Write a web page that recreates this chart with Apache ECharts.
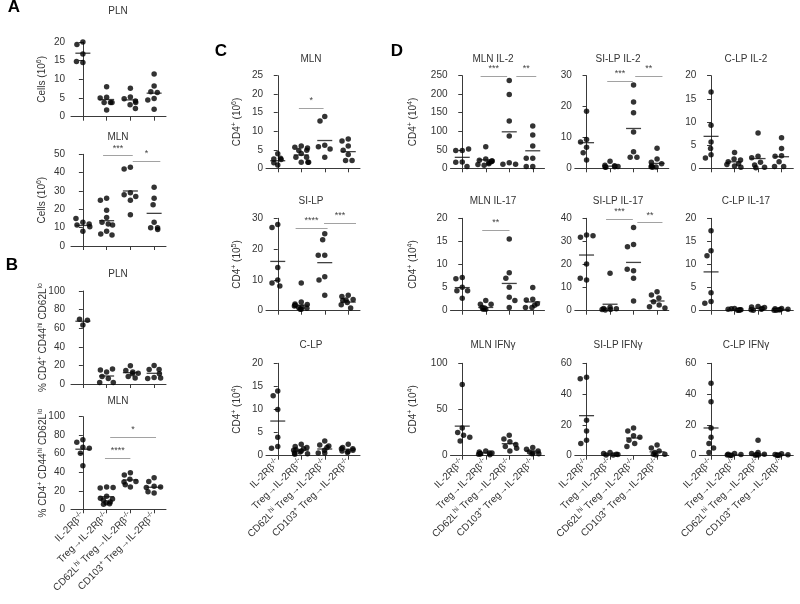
<!DOCTYPE html>
<html><head><meta charset="utf-8">
<script src="https://cdn.jsdelivr.net/npm/echarts@6/dist/echarts.min.js"></script>
<style>html,body{margin:0;padding:0;background:#fff}#c{width:800px;height:604px}</style>
</head><body><div id="c"></div>
<script>
// ---------- categories ----------
const categories = ['IL-2Rβ-/-', 'Treg→IL-2Rβ-/-', 'CD62Lhi Treg→IL-2Rβ-/-', 'CD103+ Treg→IL-2Rβ-/-'];
const categoryLabels = ['IL-2Rβ{s|-/-}', 'Treg→IL-2Rβ{s|-/-}', 'CD62L{s|hi} Treg→IL-2Rβ{s|-/-}', 'CD103{s|+} Treg→IL-2Rβ{s|-/-}'];

// ---------- A ----------
const aPlnValues = [[20, 19.3, 16.8, 14.5, 14.8], [8, 5.2, 5, 3.8, 3.8, 3.8, 1.8], [7.6, 5.3, 4.8, 4.2, 3.8, 3.2, 2.2], [11.4, 8.2, 6.7, 6.5, 4.9, 4.5, 2.0]];
const aPlnMeans = [17, 4.6, 4.5, 6.3];
const aMlnValues = [[13, 11.5, 12, 15, 10.5, 8], [26, 25, 19.5, 15.5, 13, 12, 11.5, 8, 6.5, 6], [43, 42, 29, 28, 27, 25, 17], [32, 26, 22.5, 13, 10, 10, 9]];
const aMlnMeans = [11.2, 13.8, 30, 17.8];
const aMlnSig = [[0.85, 2.1, 49.3, '***'], [2.1, 3.26, 46.2, '*']];

// ---------- B ----------
const bPlnValues = [[63.5, 69.5, 68.5], [13, 15, 16, 8, 6, 1.5, 1.5], [19.5, 14.5, 13, 11.5, 11, 8, 6.5], [20, 15.5, 15.5, 11, 7, 6, 6.5]];
const bPlnMeans = [67.5, 8.6, 12.2, 11.5];
const bMlnValues = [[75, 72.5, 67, 66, 60.5, 47], [24, 23, 23.5, 14, 12, 11, 10, 8, 7, 6, 5.5], [39.5, 37, 32.5, 30, 29.5, 26.5, 24], [34, 30, 25, 24, 23.5, 19, 17.5]];
const bMlnMeans = [64.9, 13.6, 31.7, 23.8];
const bMlnSig = [[0.93, 2.0, 55.4, '****'], [1.15, 3.08, 77.9, '*']];

// ---------- C ----------
const cMlnValues = [[3.9, 2.5, 2.4, 2.7, 0.9, 1.5], [6, 5.7, 5.5, 4.9, 4.8, 4, 3, 3, 1.6, 1.6, 1.6], [14, 12.8, 6.2, 5.8, 5.2, 3], [7.9, 7.4, 6, 4.9, 3.7, 2.1, 2.1]];
const cMlnMeans = [2.05, 3.6, 7.5, 4.5];
const cMlnSig = [[0.9, 1.95, 16.2, '*']];
const cSiValues = [[28, 27, 14, 10, 9, 8], [9, 2.8, 2.2, 2, 1.8, 1.5, 1.2, 1, 0.8, 0.5, 0.5], [25, 23, 18, 18, 11, 10, 5], [5, 4.6, 3.6, 3.3, 3.5, 2.7, 1.9, 0.9]];
const cSiMeans = [16, 1.8, 15.6, 2.8];
const cSiSig = [[0.76, 2.12, 26.8, '****'], [1.97, 3.33, 28.4, '***']];
const cClpValues = [[14, 13, 10, 4, 2, 1.6], [2.5, 2, 1.8, 1.5, 1.3, 1.2, 1, 0.8, 0.6, 0.4, 0.3], [3.2, 2.3, 2.1, 1.8, 1.2, 0.6, 0.6], [2.5, 1.8, 1.5, 1.5, 1.2, 1, 0.9, 0.7]];
const cClpMeans = [7.5, 1.2, 1.45, 1.4];

// ---------- D ----------
const dMlnIl2Values = [[48, 48, 52, 17, 16, 5], [58, 25, 22, 20, 18, 15, 12, 10, 8, 20], [237, 199, 128, 87, 15, 11, 11], [114, 90, 60, 27, 27, 5, 5]];
const dMlnIl2Means = [29.6, 23, 98.5, 47.3];
const dMlnIl2Sig = [[0.78, 1.91, 249, '***'], [2.3, 3.15, 249, '**']];
const dSiIl2Values = [[18.5, 9.3, 8.5, 6.8, 5, 2.7], [2.3, 1, 0.8, 0.6, 0.5, 0.4, 0.3], [27, 21.5, 18, 11.8, 5.4, 3.6, 3.6], [6.5, 3, 2, 1.5, 0.8, 0.5, 0.4, 0.3]];
const dSiIl2Means = [8.3, 0.7, 12.9, 1.6];
const dSiIl2Sig = [[0.88, 1.97, 28.3, '***'], [2.07, 3.23, 29.9, '**']];
const dClpIl2Values = [[16.5, 9.3, 5.7, 4.3, 2.9, 2.2], [3.4, 2, 1.8, 1.4, 1, 0.8, 0.5, 0.2], [7.6, 2.6, 2.3, 1.3, 0.7, 0.2, 0.1], [6.6, 4.3, 2.7, 2.6, 1.4, 0.4, 0.4]];
const dClpIl2Means = [6.9, 1.4, 2.1, 2.5];

const dMlnIl17Values = [[7.2, 6.9, 5.1, 4.3, 4.3, 2.7], [2.2, 1.4, 1.4, 0.7, 0.6, 0.3, 0.3], [15.5, 8.2, 7, 5.1, 2.9, 2.2, 0.7], [5, 2.5, 2.3, 1.5, 0.7, 0.7, 1.2]];
const dMlnIl17Means = [5.0, 0.7, 5.9, 1.9];
const dMlnIl17Sig = [[0.85, 2.01, 17.5, '**']];
const dSiIl17Values = [[32.8, 31.8, 32.5, 20.2, 13.3, 14], [16.2, 1.5, 1, 0.8, 0.5, 0.3, 0.5], [36, 28.7, 27.7, 17.3, 17.9, 14, 4.2], [8.2, 6.8, 5.5, 3.9, 2.5, 1.7, 1.2]];
const dSiIl17Means = [24.1, 2.8, 20.9, 4.2];
const dSiIl17Sig = [[0.83, 1.97, 39.6, '***'], [2.16, 3.23, 38.1, '**']];
const dClpIl17Values = [[17.3, 13, 11.9, 3.9, 2, 1.6], [0.5, 0.3, 0.2, 0.1, 0.1, 0.4, 0.2], [0.9, 0.8, 0.7, 0.5, 0.3, 0.2, 0.1], [0.5, 0.4, 0.3, 0.2, 0.2, 0.1, 0.1]];
const dClpIl17Means = [8.4, 0.25, 0.5, 0.26];

const dMlnIfnValues = [[77, 30, 25, 22, 20, 16], [5, 4, 3, 3, 2, 2, 1.5, 1], [22, 18, 15, 12, 10, 8, 5], [9, 7, 5, 4, 3, 2, 2]];
const dMlnIfnMeans = [32, 3, 13, 5];
const dSiIfnValues = [[51, 50, 23, 16, 10, 8], [2, 1.5, 1, 0.8, 0.5, 0.5], [18, 16, 13, 12, 10, 8, 6], [7, 5, 3, 2, 1, 1, 0.5]];
const dSiIfnMeans = [26, 1, 11.5, 2.5];
const dClpIfnValues = [[47, 35, 18, 12, 8, 5, 2], [1.5, 1, 0.8, 0.5, 0.3, 0.2], [10, 2, 1.5, 1, 0.8, 0.5, 0.3], [1.2, 0.8, 0.6, 0.5, 0.3, 0.2]];
const dClpIfnMeans = [18, 0.5, 1, 0.5];

// ---------- layout (pixels) ----------
const FONT = 'Liberation Sans';
const AB_L = 71, C_L = 266, D1 = 450.5, D2 = 574.8, D3 = 699.3;
const R1 = [75.7, 92.6], R2 = [218.3, 92.4], R3 = [363.3, 92.4];

const panels = [
  {t: 'PLN', tx: 118, ty: 12, v: aPlnValues, m: aPlnMeans, s: [], max: 20, step: 5, name: 'Cells (10{s|6})', box: [AB_L, 42, 95, 74.7], off: 3, gap: 19.5},
  {t: 'MLN', tx: 118, ty: 138.3, v: aMlnValues, m: aMlnMeans, s: aMlnSig, max: 50, step: 10, name: 'Cells (10{s|6})', box: [AB_L, 154.3, 95, 91.7], off: 3, gap: 19.5},
  {t: 'PLN', tx: 118, ty: 275, v: bPlnValues, m: bPlnMeans, s: [], max: 100, step: 20, name: '% CD4{s|+} CD44{s|hi} CD62L{s|lo}', box: [AB_L, 291, 95, 93], off: 3, gap: 18},
  {t: 'MLN', tx: 118, ty: 402, v: bMlnValues, m: bMlnMeans, s: bMlnSig, max: 100, step: 20, name: '% CD4{s|+} CD44{s|hi} CD62L{s|lo}', box: [AB_L, 416.7, 95, 92.6], off: 3, gap: 18, xl: true},
  {t: 'MLN', tx: 311, ty: 60.7, v: cMlnValues, m: cMlnMeans, s: cMlnSig, max: 25, step: 5, name: 'CD4{s|+} (10{s|6})', box: [C_L, R1[0], 94, R1[1]], gap: 22.5},
  {t: 'SI-LP', tx: 311, ty: 202, v: cSiValues, m: cSiMeans, s: cSiSig, max: 30, step: 10, name: 'CD4{s|+} (10{s|5})', box: [C_L, R2[0], 94, R2[1]], gap: 22.5},
  {t: 'C-LP', tx: 311, ty: 346, v: cClpValues, m: cClpMeans, s: [], max: 20, step: 5, name: 'CD4{s|+} (10{s|4})', box: [C_L, R3[0], 94, R3[1]], gap: 22.5, xl: true},
  {t: 'MLN IL-2', tx: 493, ty: 60.7, v: dMlnIl2Values, m: dMlnIl2Means, s: dMlnIl2Sig, max: 250, step: 50, name: 'CD4{s|+} (10{s|4})', box: [D1, R1[0], 94, R1[1]], gap: 31},
  {t: 'SI-LP IL-2', tx: 618, ty: 60.7, v: dSiIl2Values, m: dSiIl2Means, s: dSiIl2Sig, max: 30, step: 10, box: [D2, R1[0], 94, R1[1]]},
  {t: 'C-LP IL-2', tx: 746, ty: 60.7, v: dClpIl2Values, m: dClpIl2Means, s: [], max: 20, step: 5, box: [D3, R1[0], 94, R1[1]]},
  {t: 'MLN IL-17', tx: 493, ty: 202, v: dMlnIl17Values, m: dMlnIl17Means, s: dMlnIl17Sig, max: 20, step: 5, name: 'CD4{s|+} (10{s|4})', box: [D1, R2[0], 94, R2[1]], gap: 31},
  {t: 'SI-LP IL-17', tx: 618, ty: 202, v: dSiIl17Values, m: dSiIl17Means, s: dSiIl17Sig, max: 40, step: 10, box: [D2, R2[0], 94, R2[1]]},
  {t: 'C-LP IL-17', tx: 746, ty: 202, v: dClpIl17Values, m: dClpIl17Means, s: [], max: 20, step: 5, box: [D3, R2[0], 94, R2[1]]},
  {t: 'MLN IFNγ', tx: 493, ty: 346, v: dMlnIfnValues, m: dMlnIfnMeans, s: [], max: 100, step: 50, name: 'CD4{s|+} (10{s|4})', box: [D1, R3[0], 94, R3[1]], gap: 31, xl: true},
  {t: 'SI-LP IFNγ', tx: 618, ty: 346, v: dSiIfnValues, m: dSiIfnMeans, s: [], max: 60, step: 20, box: [D2, R3[0], 94, R3[1]], xl: true},
  {t: 'C-LP IFNγ', tx: 746, ty: 346, v: dClpIfnValues, m: dClpIfnMeans, s: [], max: 60, step: 20, box: [D3, R3[0], 94, R3[1]], xl: true}
];
const letters = [['A', 14, 8], ['B', 12, 266], ['C', 221, 52], ['D', 397, 52]];

const AX = '#3a3a3a', TXT = '#333';
const supRich = {s: {fontSize: 7, verticalAlign: 'top', lineHeight: 8, fontFamily: FONT, color: TXT}};

const option = {animation: false, backgroundColor: '#fff', title: [], grid: [], xAxis: [], yAxis: [], series: []};
letters.forEach(l => option.title.push({text: l[0], left: l[1], top: l[2] - 9, textAlign: 'center', padding: 0,
  textStyle: {fontFamily: FONT, fontWeight: 'bold', fontSize: 17, color: '#000'}}));

panels.forEach((p, i) => {
  option.title.push({text: p.t, left: p.tx, top: p.ty - 6, textAlign: 'center', padding: 0,
    textStyle: {fontFamily: FONT, fontWeight: 'normal', fontSize: 10, color: TXT}});
  option.grid.push({left: p.box[0], top: p.box[1], width: p.box[2], height: p.box[3], containLabel: false});
  option.xAxis.push({
    type: 'category', gridIndex: i, data: categories, boundaryGap: true,
    jitter: 16, jitterOverlap: false, jitterMargin: 1,
    axisLine: {show: true, lineStyle: {color: AX, width: 1}},
    axisTick: {show: true, alignWithLabel: true, length: 4, lineStyle: {color: AX}},
    axisLabel: {show: !!p.xl, interval: 0, rotate: 45, margin: 5, fontSize: 10, lineHeight: 13, color: TXT, fontFamily: FONT,
      formatter: (v, idx) => categoryLabels[idx], rich: supRich},
    splitLine: {show: false}
  });
  option.xAxis.push({type: 'value', gridIndex: i, min: -0.5, max: 3.5, show: false});
  option.yAxis.push({
    type: 'value', gridIndex: i, min: 0, max: p.max, interval: p.step, offset: p.off || 0,
    name: p.name || '', nameLocation: 'middle', nameGap: p.gap || 20, nameRotate: 90, nameMoveOverlap: false,
    nameTextStyle: {fontFamily: FONT, fontSize: 10, lineHeight: 13, color: TXT, rich: supRich},
    axisLine: {show: true, lineStyle: {color: AX, width: 1}},
    axisTick: {show: true, length: 4, lineStyle: {color: AX}},
    axisLabel: {fontSize: 10, color: TXT, margin: 3, fontFamily: FONT},
    splitLine: {show: false}
  });
  const pts = [];
  p.v.forEach((g, j) => g.forEach(val => pts.push([j, val])));
  option.series.push({type: 'scatter', xAxisIndex: 2 * i, yAxisIndex: i, data: pts, symbolSize: 5.5,
    itemStyle: {color: '#000'}, silent: true, z: 3});
  option.series.push({
    type: 'scatter', xAxisIndex: 2 * i + 1, yAxisIndex: i, data: p.m.map((m, j) => [j, m]),
    symbol: 'rect', symbolSize: [15, 1.3], itemStyle: {color: '#111'}, silent: true, z: 4,
    markLine: {
      silent: true, symbol: ['none', 'none'], animation: false,
      lineStyle: {color: '#8a8a8a', width: 0.8, type: 'solid'},
      label: {show: true, position: 'insideMiddleTop', distance: 3, fontSize: 9, color: '#444', fontFamily: FONT,
        formatter: prm => prm.data.stars || ''},
      emphasis: {disabled: true},
      data: p.s.map(s => [{coord: [s[0], s[2]], stars: s[3]}, {coord: [s[1], s[2]]}])
    }
  });
});

const chart = echarts.init(document.getElementById('c'), null, {renderer: 'canvas'});
chart.setOption(option);
</script></body></html>
